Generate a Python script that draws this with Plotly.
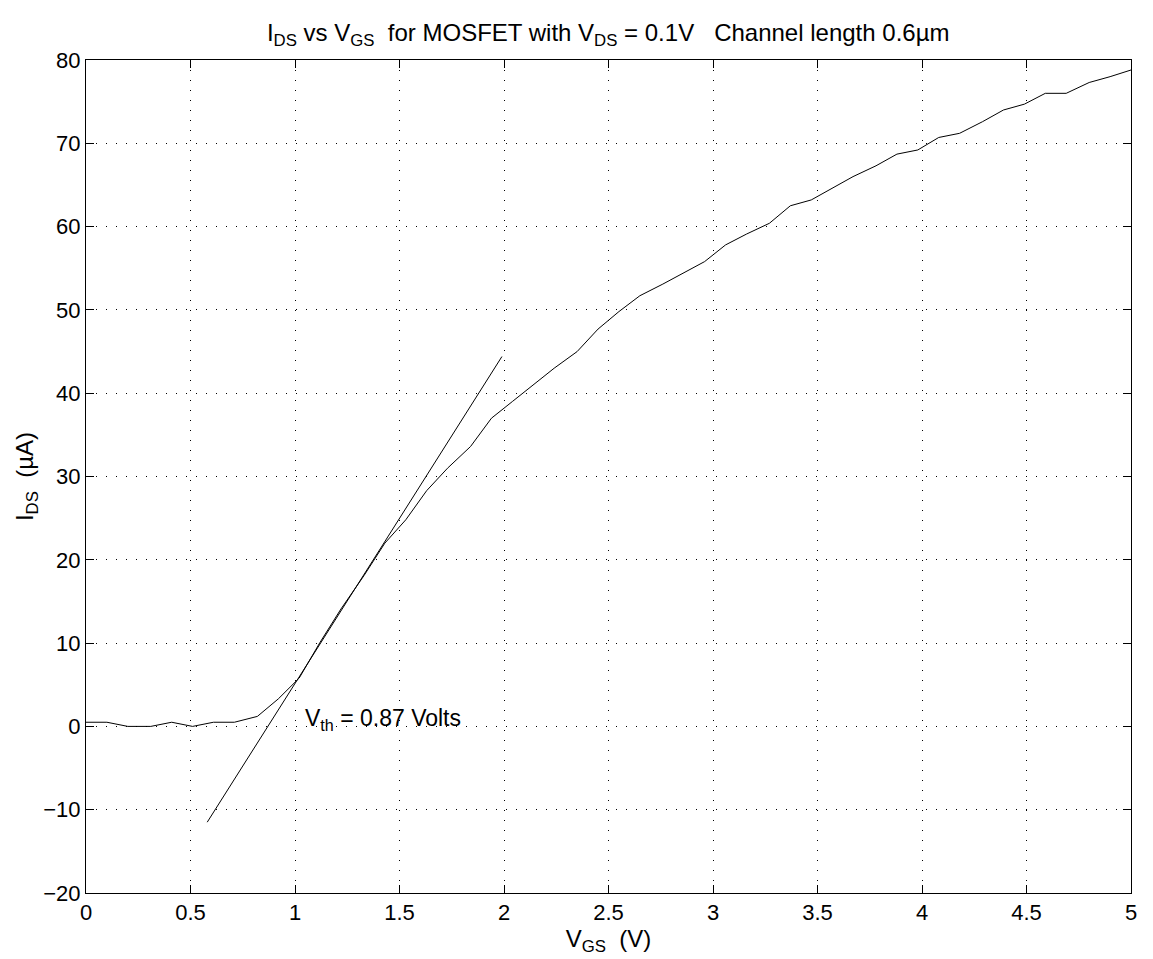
import plotly.graph_objects as go

# Measured data: V_GS (V) and I_DS (uA)
vgs = [0.00, 0.10, 0.20, 0.31, 0.41, 0.51, 0.61, 0.71, 0.82, 0.92,
       1.02, 1.12, 1.22, 1.33, 1.43, 1.53, 1.63, 1.73, 1.84, 1.94,
       2.04, 2.14, 2.24, 2.35, 2.45, 2.55, 2.65, 2.76, 2.86, 2.96,
       3.06, 3.16, 3.27, 3.37, 3.47, 3.57, 3.67, 3.78, 3.88, 3.98,
       4.08, 4.18, 4.29, 4.39, 4.49, 4.59, 4.69, 4.80, 4.90, 5.00]
ids = [0.5, 0.5, 0.0, 0.0, 0.5, 0.0, 0.5, 0.5, 1.2, 3.3,
       5.8, 10.1, 14.1, 18.1, 22.0, 24.8, 28.3, 31.0, 33.6, 37.0,
       39.0, 41.0, 43.0, 45.0, 47.7, 49.8, 51.7, 53.1, 54.4, 55.8,
       57.8, 59.1, 60.4, 62.5, 63.2, 64.6, 66.0, 67.3, 68.7, 69.2,
       70.7, 71.2, 72.6, 74.0, 74.7, 76.0, 76.0, 77.3, 78.0, 78.8]

# Tangent (linear extrapolation) line endpoints
tan_x = [0.58, 1.99]
tan_y = [-11.5, 44.4]

x_ticks = [0, 0.5, 1, 1.5, 2, 2.5, 3, 3.5, 4, 4.5, 5]
x_ticklabels = ["0", "0.5", "1", "1.5", "2", "2.5", "3", "3.5", "4", "4.5", "5"]
y_ticks = [-20, -10, 0, 10, 20, 30, 40, 50, 60, 70, 80]

FONT = "Liberation Sans, Arial, Helvetica, sans-serif"

fig = go.Figure()
fig.add_trace(go.Scatter(x=vgs, y=ids, mode="lines",
                         line=dict(color="black", width=1), showlegend=False,
                         hoverinfo="skip"))
fig.add_trace(go.Scatter(x=tan_x, y=tan_y, mode="lines",
                         line=dict(color="black", width=1), showlegend=False,
                         hoverinfo="skip"))

axis_common = dict(
    showline=True, linecolor="black", linewidth=1, mirror="ticks",
    ticks="inside", ticklen=8, tickwidth=1, tickcolor="black",
    showgrid=True, gridcolor="black", gridwidth=1, griddash="1px,9px",
    zeroline=False, tickfont=dict(family=FONT, size=22, color="black"),
)

fig.update_xaxes(range=[0, 5], tickvals=x_ticks, ticktext=x_ticklabels,
                 title=dict(text="V<sub>GS</sub>  (V)",
                            font=dict(family=FONT, size=24, color="black"),
                            standoff=0),
                 **axis_common)
fig.update_yaxes(range=[-20, 80], tickvals=y_ticks,
                 title=dict(text="I<sub>DS</sub>  (µA)",
                            font=dict(family=FONT, size=24, color="black"),
                            standoff=2),
                 **axis_common)

fig.add_annotation(x=1.04, y=0, xref="x", yref="y",
                   text="V<sub>th</sub> = 0.87 Volts", showarrow=False,
                   xanchor="left", yanchor="middle", yshift=7,
                   font=dict(family=FONT, size=23, color="black"))

fig.update_layout(
    width=1153, height=959,
    margin=dict(l=86, r=22, t=60, b=66),
    paper_bgcolor="white", plot_bgcolor="white",
    title=dict(text="I<sub>DS</sub> vs V<sub>GS</sub>  for MOSFET with V<sub>DS</sub> = 0.1V   Channel length 0.6µm",
               x=0.5275, xanchor="center", y=0.966, yanchor="middle",
               font=dict(family=FONT, size=24, color="black")),
    showlegend=False,
)

fig.write_html("out.html")
